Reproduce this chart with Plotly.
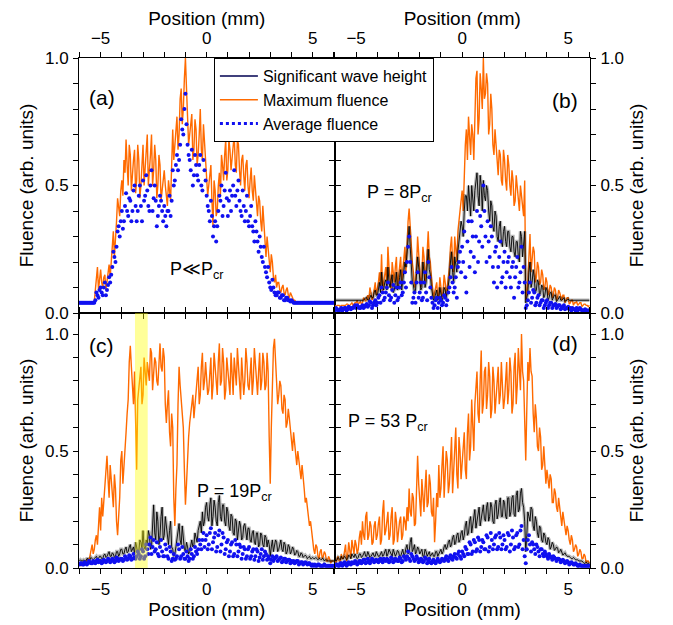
import plotly.graph_objects as go

# ---------------- data ----------------
# samples every 0.1 mm from -6.0 to 6.0 (121) and in-between samples
# at -5.95 ... 5.95 (120); both
POSITION_MAIN = [round(-6.0 + 0.1 * i, 1) for i in range(121)]
POSITION_MID = [round(-5.95 + 0.1 * i, 2) for i in range(120)]

# Panel (a)  P << Pcr
a_max = [0.04,0.04,0.04,0.04,0.04,0.04,0.04,0.045,0.14,0.09,
         0.17,0.10,0.15,0.12,0.19,0.20,0.32,0.28,0.45,0.38,
         0.52,0.60,0.68,0.50,0.62,0.55,0.64,0.52,0.60,0.50,
         0.66,0.58,0.70,0.55,0.70,0.56,0.60,0.50,0.58,0.48,
         0.56,0.46,0.52,0.44,0.72,0.66,0.77,0.70,0.88,0.80,
         1.00,0.78,0.70,0.78,0.64,0.72,0.62,0.80,0.60,0.68,
         0.55,0.50,0.58,0.34,0.48,0.40,0.55,0.62,0.52,0.68,
         0.56,0.64,0.60,0.70,0.55,0.66,0.50,0.62,0.48,0.60,
         0.45,0.57,0.44,0.48,0.38,0.44,0.32,0.36,0.22,0.26,
         0.16,0.20,0.12,0.10,0.12,0.08,0.11,0.07,0.10,0.06,
         0.07,0.05,0.045,0.04,0.04,0.04,0.04,0.04,0.04,0.04,
         0.04,0.04,0.04,0.04,0.04,0.04,0.04,0.04,0.04,0.04,
         0.04]
a_max_mid = [0.04,0.04,0.04,0.04,0.04,0.04,0.042,0.09,0.18,0.12,
             0.12,0.14,0.09,0.16,0.14,0.26,0.22,0.36,0.42,0.48,
             0.46,0.55,0.58,0.66,0.48,0.60,0.47,0.66,0.45,0.58,
             0.50,0.64,0.50,0.62,0.50,0.66,0.45,0.62,0.44,0.52,
             0.50,0.42,0.48,0.58,0.60,0.72,0.64,0.84,0.74,0.92,
             0.88,0.66,0.74,0.60,0.76,0.58,0.70,0.64,0.74,0.60,
             0.46,0.56,0.44,0.52,0.38,0.50,0.46,0.58,0.62,0.52,
             0.68,0.56,0.66,0.58,0.68,0.56,0.60,0.54,0.58,0.50,
             0.52,0.48,0.54,0.40,0.46,0.36,0.42,0.28,0.30,0.20,
             0.23,0.14,0.15,0.12,0.09,0.10,0.08,0.09,0.07,0.08,
             0.06,0.05,0.04,0.04,0.04,0.04,0.04,0.04,0.04,0.04,
             0.04,0.04,0.04,0.04,0.04,0.04,0.04,0.04,0.04,0.04]
a_avg = [0.04,0.04,0.04,0.04,0.04,0.04,0.04,0.04,0.08,0.06,
         0.10,0.07,0.12,0.09,0.14,0.15,0.24,0.20,0.32,0.30,
         0.40,0.36,0.47,0.38,0.44,0.40,0.50,0.36,0.46,0.42,
         0.52,0.46,0.48,0.40,0.56,0.45,0.44,0.38,0.46,0.40,
         0.42,0.34,0.40,0.38,0.56,0.52,0.62,0.60,0.76,0.70,
         0.86,0.66,0.60,0.64,0.54,0.58,0.52,0.62,0.48,0.56,
         0.46,0.40,0.44,0.30,0.36,0.34,0.46,0.50,0.42,0.55,
         0.38,0.48,0.46,0.56,0.42,0.52,0.40,0.48,0.36,0.46,
         0.34,0.42,0.32,0.36,0.28,0.30,0.22,0.26,0.16,0.18,
         0.10,0.13,0.08,0.07,0.08,0.06,0.07,0.05,0.06,0.05,
         0.05,0.04,0.04,0.04,0.04,0.04,0.04,0.04,0.04,0.04,
         0.04,0.04,0.04,0.04,0.04,0.04,0.04,0.04,0.04,0.04,
         0.04]
a_avg_mid = [0.04,0.04,0.04,0.04,0.04,0.04,0.04,0.05,0.07,0.09,
             0.08,0.10,0.07,0.11,0.12,0.18,0.22,0.26,0.34,0.36,
             0.33,0.42,0.40,0.45,0.36,0.48,0.42,0.40,0.50,0.36,
             0.44,0.54,0.42,0.50,0.40,0.50,0.34,0.42,0.44,0.36,
             0.38,0.40,0.46,0.44,0.50,0.58,0.56,0.66,0.72,0.80,
             0.74,0.62,0.56,0.50,0.62,0.54,0.58,0.50,0.60,0.52,
             0.42,0.36,0.38,0.34,0.28,0.40,0.44,0.38,0.48,0.45,
             0.44,0.40,0.50,0.46,0.48,0.44,0.38,0.42,0.40,0.36,
             0.38,0.34,0.28,0.32,0.24,0.26,0.20,0.18,0.14,0.12,
             0.09,0.10,0.07,0.08,0.06,0.07,0.05,0.06,0.05,0.045,
             0.045,0.04,0.04,0.04,0.04,0.04,0.04,0.04,0.04,0.04,
             0.04,0.04,0.04,0.04,0.04,0.04,0.04,0.04,0.04,0.04]

# Panel (b)  P = 8 Pcr
b_max = [0.03,0.03,0.03,0.03,0.03,0.03,0.035,0.03,0.04,0.035,
         0.04,0.035,0.045,0.04,0.05,0.06,0.05,0.08,0.06,0.12,
         0.09,0.16,0.23,0.12,0.18,0.26,0.14,0.20,0.12,0.22,
         0.14,0.22,0.18,0.26,0.30,0.41,0.24,0.16,0.12,0.30,
         0.18,0.14,0.22,0.16,0.32,0.20,0.10,0.08,0.12,0.07,
         0.10,0.08,0.12,0.10,0.18,0.30,0.16,0.24,0.32,0.40,
         0.48,0.58,0.72,0.77,0.62,0.70,0.80,0.95,0.76,0.88,
         1.00,0.86,0.90,0.74,0.80,0.62,0.66,0.54,0.62,0.50,
         0.60,0.48,0.58,0.46,0.52,0.44,0.48,0.40,0.46,0.38,
         0.05,0.12,0.31,0.20,0.24,0.14,0.18,0.12,0.15,0.10,
         0.12,0.08,0.10,0.07,0.09,0.06,0.08,0.05,0.07,0.05,
         0.06,0.04,0.05,0.04,0.045,0.035,0.04,0.03,0.035,0.03,
         0.03]
b_max_mid = [0.025,0.03,0.025,0.03,0.03,0.035,0.03,0.035,0.03,0.04,
             0.05,0.04,0.035,0.06,0.045,0.07,0.10,0.05,0.09,0.07,
             0.12,0.10,0.08,0.16,0.10,0.18,0.09,0.15,0.18,0.10,
             0.20,0.12,0.22,0.16,0.36,0.32,0.20,0.10,0.18,0.24,
             0.10,0.26,0.12,0.24,0.22,0.14,0.06,0.10,0.06,0.14,
             0.06,0.15,0.07,0.14,0.26,0.20,0.30,0.20,0.36,0.46,
             0.40,0.66,0.60,0.68,0.74,0.60,0.92,0.70,0.94,0.80,
             0.84,0.94,0.70,0.86,0.66,0.72,0.58,0.64,0.52,0.64,
             0.52,0.62,0.50,0.56,0.42,0.54,0.42,0.50,0.42,0.52,
             0.08,0.22,0.16,0.26,0.12,0.20,0.11,0.17,0.09,0.14,
             0.07,0.11,0.06,0.10,0.05,0.09,0.06,0.07,0.04,0.06,
             0.035,0.05,0.03,0.04,0.03,0.04,0.025,0.035,0.03,0.025]
b_swh = [0.05,0.05,0.05,0.05,0.05,0.05,0.05,0.05,0.05,0.05,
         0.05,0.05,0.05,0.05,0.055,0.06,0.05,0.07,0.06,0.09,
         0.07,0.12,0.16,0.09,0.13,0.18,0.10,0.15,0.09,0.16,
         0.10,0.17,0.13,0.20,0.24,0.34,0.18,0.11,0.09,0.22,
         0.13,0.10,0.16,0.12,0.25,0.15,0.08,0.06,0.09,0.06,
         0.08,0.06,0.09,0.08,0.14,0.24,0.12,0.18,0.24,0.30,
         0.34,0.40,0.46,0.50,0.38,0.44,0.48,0.55,0.42,0.50,
         0.52,0.44,0.48,0.36,0.42,0.32,0.38,0.28,0.36,0.26,
         0.34,0.26,0.32,0.24,0.30,0.22,0.28,0.20,0.30,0.26,
         0.04,0.08,0.20,0.12,0.14,0.09,0.12,0.08,0.10,0.07,
         0.09,0.06,0.08,0.06,0.07,0.05,0.065,0.05,0.06,0.05,
         0.055,0.05,0.05,0.05,0.05,0.05,0.05,0.05,0.05,0.05,
         0.05]
b_swh_mid = [0.05,0.05,0.05,0.05,0.05,0.05,0.05,0.05,0.05,0.05,
             0.05,0.05,0.05,0.05,0.06,0.05,0.065,0.06,0.08,0.07,
             0.09,0.08,0.10,0.12,0.09,0.12,0.13,0.08,0.12,0.09,
             0.14,0.09,0.16,0.18,0.30,0.26,0.12,0.08,0.16,0.18,
             0.09,0.20,0.10,0.18,0.17,0.10,0.05,0.08,0.05,0.10,
             0.05,0.10,0.06,0.11,0.20,0.16,0.22,0.16,0.28,0.36,
             0.30,0.46,0.40,0.44,0.50,0.40,0.52,0.46,0.54,0.40,
             0.46,0.50,0.40,0.44,0.34,0.40,0.30,0.34,0.28,0.32,
             0.28,0.32,0.26,0.30,0.24,0.28,0.22,0.32,0.22,0.32,
             0.06,0.16,0.10,0.17,0.08,0.13,0.07,0.11,0.06,0.10,
             0.05,0.08,0.05,0.07,0.045,0.06,0.05,0.055,0.045,0.05,
             0.05,0.05,0.05,0.05,0.05,0.05,0.05,0.05,0.05,0.05]
b_avg = [0.01,0.015,0.01,0.02,0.015,0.02,0.015,0.02,0.02,0.025,
         0.02,0.025,0.02,0.03,0.025,0.035,0.03,0.04,0.03,0.05,
         0.04,0.07,0.10,0.05,0.08,0.12,0.05,0.09,0.04,0.10,
         0.06,0.12,0.08,0.16,0.20,0.30,0.12,0.06,0.04,0.16,
         0.08,0.05,0.12,0.08,0.20,0.10,0.04,0.03,0.06,0.04,
         0.05,0.04,0.06,0.05,0.10,0.18,0.08,0.14,0.18,0.24,
         0.26,0.32,0.08,0.36,0.24,0.30,0.16,0.40,0.28,0.34,
         0.50,0.30,0.36,0.22,0.30,0.12,0.26,0.18,0.28,0.14,
         0.24,0.16,0.22,0.10,0.20,0.14,0.22,0.12,0.26,0.18,
         0.02,0.05,0.12,0.06,0.08,0.04,0.07,0.04,0.05,0.03,
         0.05,0.03,0.04,0.03,0.035,0.025,0.03,0.02,0.03,0.02,
         0.025,0.02,0.02,0.015,0.02,0.015,0.015,0.01,0.015,0.01,
         0.01]
b_avg_mid = [0.02,0.01,0.015,0.01,0.02,0.01,0.025,0.015,0.02,0.03,
             0.03,0.02,0.025,0.02,0.03,0.025,0.045,0.02,0.04,0.03,
             0.06,0.04,0.08,0.06,0.10,0.07,0.06,0.11,0.07,0.05,
             0.10,0.07,0.12,0.10,0.26,0.20,0.04,0.08,0.12,0.06,
             0.12,0.06,0.16,0.05,0.14,0.06,0.02,0.05,0.02,0.06,
             0.03,0.07,0.03,0.08,0.14,0.12,0.10,0.06,0.20,0.16,
             0.20,0.14,0.28,0.18,0.36,0.22,0.30,0.20,0.38,0.26,
             0.40,0.20,0.28,0.34,0.18,0.24,0.10,0.22,0.12,0.20,
             0.10,0.20,0.14,0.18,0.06,0.18,0.10,0.16,0.08,0.12,
             0.03,0.08,0.04,0.09,0.03,0.06,0.03,0.05,0.02,0.04,
             0.02,0.04,0.02,0.03,0.02,0.03,0.015,0.025,0.015,0.02,
             0.015,0.01,0.015,0.01,0.01,0.02,0.01,0.01,0.01,0.01]

# Panel (c)  P = 19 Pcr
c_max = [0.02,0.01,0.03,0.02,0.04,0.05,0.10,0.08,0.14,0.20,
         0.16,0.22,0.36,0.48,0.30,0.38,0.26,0.34,0.14,0.30,
         0.50,0.42,0.58,0.72,0.95,0.80,0.84,0.42,0.78,0.86,
         0.74,0.84,0.88,0.80,0.92,0.82,0.88,0.78,0.96,0.84,
         0.90,0.62,0.76,0.52,0.60,0.18,0.44,0.86,0.72,0.60,
         0.27,0.50,0.62,0.70,0.64,0.78,0.86,0.74,0.92,0.80,
         0.82,0.76,0.90,0.78,0.86,0.74,0.96,0.80,0.88,0.76,
         0.84,0.74,0.82,0.90,0.78,0.86,0.72,0.84,0.80,0.88,
         0.76,0.90,0.80,0.86,0.74,0.92,0.80,0.88,0.78,0.84,
         0.36,0.86,0.98,0.80,0.74,0.78,0.66,0.72,0.62,0.64,
         0.55,0.58,0.48,0.50,0.42,0.44,0.34,0.30,0.22,0.20,
         0.12,0.06,0.09,0.04,0.08,0.05,0.06,0.03,0.04,0.03,
         0.03]
c_max_mid = [0.01,0.02,0.02,0.03,0.03,0.07,0.06,0.12,0.10,0.26,
             0.30,0.28,0.42,0.38,0.44,0.30,0.40,0.20,0.22,0.46,
             0.36,0.52,0.66,0.88,0.86,0.70,0.62,0.72,0.80,0.70,
             0.90,0.78,0.84,0.94,0.76,0.90,0.80,0.88,0.86,0.94,
             0.70,0.70,0.58,0.66,0.30,0.34,0.70,0.78,0.64,0.42,
             0.36,0.56,0.66,0.74,0.70,0.82,0.70,0.86,0.76,0.88,
             0.74,0.86,0.72,0.92,0.76,0.88,0.78,0.94,0.72,0.90,
             0.78,0.92,0.74,0.82,0.94,0.76,0.90,0.74,0.94,0.78,
             0.84,0.74,0.94,0.78,0.84,0.76,0.92,0.76,0.92,0.56,
             0.60,0.94,0.86,0.70,0.80,0.68,0.74,0.60,0.68,0.58,
             0.50,0.54,0.44,0.46,0.38,0.40,0.28,0.26,0.18,0.14,
             0.08,0.10,0.05,0.07,0.04,0.07,0.03,0.05,0.02,0.03]
c_swh = [0.03,0.03,0.035,0.03,0.04,0.035,0.04,0.04,0.05,0.04,
         0.05,0.04,0.06,0.05,0.07,0.05,0.06,0.05,0.07,0.06,
         0.08,0.06,0.09,0.07,0.10,0.08,0.06,0.09,0.07,0.11,
         0.16,0.08,0.10,0.14,0.09,0.27,0.12,0.20,0.14,0.26,
         0.14,0.18,0.10,0.20,0.08,0.06,0.12,0.19,0.10,0.14,
         0.07,0.09,0.07,0.12,0.10,0.13,0.16,0.20,0.24,0.20,
         0.28,0.20,0.30,0.22,0.26,0.18,0.31,0.20,0.27,0.18,
         0.24,0.16,0.22,0.14,0.20,0.15,0.18,0.13,0.19,0.12,
         0.17,0.11,0.16,0.10,0.15,0.10,0.14,0.09,0.13,0.12,
         0.05,0.12,0.09,0.11,0.08,0.12,0.07,0.10,0.07,0.09,
         0.07,0.08,0.06,0.07,0.05,0.06,0.05,0.05,0.045,0.04,
         0.045,0.04,0.04,0.04,0.035,0.04,0.035,0.03,0.03,0.03,
         0.03]
c_swh_mid = [0.035,0.03,0.03,0.04,0.03,0.045,0.035,0.045,0.04,0.05,
             0.04,0.055,0.045,0.06,0.05,0.065,0.045,0.07,0.05,0.08,
             0.06,0.08,0.065,0.09,0.07,0.09,0.11,0.06,0.12,0.08,
             0.09,0.12,0.16,0.08,0.20,0.15,0.24,0.10,0.22,0.12,
             0.22,0.12,0.16,0.09,0.05,0.09,0.15,0.12,0.18,0.08,
             0.11,0.06,0.10,0.09,0.15,0.11,0.19,0.15,0.18,0.26,
             0.22,0.27,0.18,0.29,0.20,0.28,0.22,0.27,0.20,0.26,
             0.18,0.23,0.15,0.21,0.12,0.20,0.12,0.18,0.14,0.17,
             0.12,0.15,0.11,0.15,0.09,0.15,0.10,0.14,0.09,0.10,
             0.09,0.07,0.12,0.07,0.11,0.08,0.11,0.06,0.10,0.06,
             0.09,0.055,0.075,0.05,0.065,0.045,0.055,0.04,0.05,0.04,
             0.04,0.045,0.035,0.04,0.04,0.03,0.035,0.03,0.03,0.03]
c_avg = [0.015,0.02,0.015,0.02,0.02,0.025,0.02,0.025,0.03,0.025,
         0.03,0.025,0.03,0.03,0.035,0.03,0.035,0.03,0.04,0.035,
         0.04,0.035,0.045,0.04,0.05,0.04,0.045,0.05,0.06,0.05,
         0.07,0.05,0.08,0.10,0.06,0.12,0.08,0.06,0.09,0.07,
         0.05,0.08,0.04,0.07,0.04,0.035,0.05,0.08,0.05,0.06,
         0.04,0.05,0.04,0.06,0.05,0.07,0.08,0.10,0.12,0.09,
         0.14,0.10,0.17,0.11,0.15,0.09,0.16,0.10,0.13,0.08,
         0.12,0.07,0.11,0.06,0.10,0.07,0.09,0.06,0.08,0.05,
         0.09,0.05,0.08,0.05,0.07,0.045,0.08,0.05,0.06,0.05,
         0.02,0.05,0.04,0.05,0.035,0.045,0.03,0.04,0.03,0.035,
         0.03,0.03,0.025,0.03,0.02,0.025,0.02,0.02,0.02,0.015,
         0.015,0.015,0.01,0.015,0.01,0.01,0.01,0.01,0.01,0.01,
         0.01]
c_avg_mid = [0.02,0.015,0.025,0.015,0.03,0.02,0.03,0.02,0.035,0.03,
             0.02,0.035,0.025,0.04,0.025,0.04,0.025,0.045,0.03,0.04,
             0.03,0.05,0.035,0.055,0.035,0.06,0.04,0.07,0.04,0.08,
             0.04,0.10,0.06,0.13,0.09,0.07,0.11,0.05,0.12,0.05,
             0.10,0.05,0.09,0.03,0.06,0.04,0.10,0.04,0.09,0.04,
             0.07,0.03,0.08,0.04,0.09,0.06,0.12,0.08,0.15,0.12,
             0.08,0.15,0.08,0.13,0.07,0.14,0.07,0.15,0.06,0.11,
             0.05,0.10,0.05,0.12,0.05,0.10,0.04,0.09,0.04,0.08,
             0.04,0.07,0.035,0.08,0.03,0.06,0.035,0.07,0.035,0.04,
             0.035,0.03,0.045,0.03,0.04,0.025,0.04,0.025,0.035,0.02,
             0.025,0.02,0.03,0.015,0.025,0.015,0.025,0.015,0.02,0.01,
             0.01,0.01,0.015,0.01,0.01,0.015,0.01,0.01,0.01,0.01]

# Panel (d)  P = 53 Pcr
d_max = [0.03,0.04,0.03,0.06,0.04,0.10,0.05,0.08,0.12,0.06,
         0.10,0.08,0.16,0.20,0.12,0.24,0.14,0.18,0.11,0.20,
         0.14,0.22,0.12,0.29,0.16,0.24,0.14,0.26,0.12,0.20,
         0.16,0.22,0.14,0.20,0.26,0.34,0.22,0.30,0.19,0.48,
         0.30,0.38,0.24,0.42,0.28,0.36,0.22,0.11,0.32,0.44,
         0.34,0.52,0.40,0.46,0.36,0.56,0.42,0.60,0.34,0.50,
         0.44,0.58,0.38,0.66,0.52,0.62,0.70,0.84,0.62,0.93,
         0.70,0.86,0.74,0.82,0.68,0.80,0.72,0.86,0.74,0.80,
         0.72,0.88,0.76,0.84,0.70,0.92,0.78,0.86,1.00,0.80,
         0.46,0.88,0.94,0.82,0.58,0.64,0.50,0.56,0.44,0.40,
         0.42,0.34,0.38,0.28,0.32,0.24,0.26,0.18,0.20,0.14,
         0.16,0.10,0.12,0.08,0.09,0.06,0.07,0.04,0.05,0.03,
         0.02]
d_max_mid = [0.02,0.05,0.02,0.04,0.07,0.03,0.11,0.04,0.08,0.12,
             0.06,0.13,0.10,0.14,0.22,0.12,0.20,0.10,0.18,0.12,
             0.19,0.10,0.24,0.14,0.20,0.12,0.22,0.10,0.24,0.11,
             0.20,0.12,0.22,0.16,0.20,0.24,0.32,0.18,0.30,0.36,
             0.22,0.30,0.34,0.26,0.40,0.24,0.30,0.20,0.26,0.30,
             0.44,0.30,0.50,0.32,0.46,0.32,0.52,0.40,0.56,0.38,
             0.50,0.42,0.58,0.46,0.72,0.50,0.78,0.66,0.80,0.66,
             0.84,0.68,0.88,0.64,0.86,0.66,0.82,0.70,0.88,0.68,
             0.82,0.70,0.90,0.66,0.86,0.70,0.94,0.76,0.84,0.62,
             0.68,0.80,0.84,0.66,0.70,0.52,0.60,0.42,0.52,0.36,
             0.36,0.40,0.28,0.34,0.26,0.30,0.20,0.24,0.16,0.18,
             0.12,0.14,0.07,0.10,0.05,0.08,0.04,0.06,0.02,0.03]
d_swh = [0.04,0.035,0.04,0.05,0.04,0.045,0.04,0.05,0.06,0.045,
         0.05,0.045,0.06,0.05,0.07,0.05,0.06,0.05,0.065,0.05,
         0.06,0.05,0.07,0.055,0.08,0.06,0.07,0.05,0.065,0.06,
         0.07,0.05,0.08,0.06,0.10,0.07,0.13,0.08,0.06,0.09,
         0.06,0.08,0.05,0.07,0.06,0.05,0.065,0.05,0.07,0.06,
         0.08,0.07,0.10,0.09,0.12,0.10,0.14,0.11,0.15,0.12,
         0.16,0.14,0.20,0.15,0.22,0.18,0.25,0.20,0.26,0.21,
         0.27,0.20,0.28,0.22,0.26,0.19,0.29,0.23,0.30,0.22,
         0.28,0.21,0.30,0.24,0.31,0.22,0.33,0.25,0.34,0.26,
         0.07,0.24,0.20,0.25,0.16,0.20,0.13,0.17,0.11,0.14,
         0.10,0.12,0.09,0.10,0.08,0.085,0.07,0.07,0.06,0.055,
         0.05,0.045,0.04,0.04,0.035,0.03,0.03,0.025,0.02,0.02,
         0.02]
d_swh_mid = [0.03,0.045,0.035,0.04,0.05,0.035,0.055,0.04,0.05,0.06,
             0.04,0.06,0.045,0.065,0.05,0.07,0.045,0.06,0.05,0.07,
             0.05,0.065,0.05,0.07,0.05,0.08,0.055,0.08,0.05,0.075,
             0.05,0.07,0.055,0.085,0.06,0.11,0.07,0.10,0.07,0.08,
             0.07,0.05,0.08,0.05,0.07,0.06,0.05,0.07,0.05,0.07,
             0.06,0.09,0.08,0.11,0.09,0.13,0.10,0.14,0.11,0.15,
             0.12,0.18,0.14,0.20,0.15,0.23,0.17,0.24,0.18,0.26,
             0.21,0.26,0.20,0.28,0.20,0.27,0.21,0.28,0.22,0.29,
             0.22,0.30,0.22,0.30,0.23,0.31,0.24,0.32,0.28,0.20,
             0.14,0.22,0.26,0.18,0.22,0.15,0.18,0.12,0.15,0.11,
             0.13,0.08,0.11,0.075,0.09,0.065,0.08,0.055,0.065,0.05,
             0.05,0.04,0.045,0.035,0.035,0.03,0.03,0.02,0.025,0.02]
d_avg = [0.01,0.015,0.01,0.02,0.015,0.02,0.015,0.02,0.025,0.02,
         0.025,0.02,0.03,0.025,0.035,0.025,0.03,0.03,0.035,0.03,
         0.03,0.035,0.03,0.04,0.03,0.035,0.03,0.04,0.03,0.035,
         0.03,0.04,0.03,0.045,0.05,0.04,0.06,0.04,0.035,0.04,
         0.03,0.035,0.03,0.04,0.03,0.025,0.03,0.025,0.03,0.03,
         0.03,0.035,0.04,0.035,0.045,0.04,0.05,0.045,0.06,0.05,
         0.07,0.05,0.08,0.06,0.10,0.07,0.11,0.08,0.12,0.09,
         0.11,0.08,0.13,0.09,0.12,0.10,0.14,0.09,0.13,0.10,
         0.12,0.09,0.14,0.10,0.13,0.09,0.15,0.10,0.18,0.12,
         0.02,0.12,0.10,0.11,0.08,0.10,0.07,0.08,0.06,0.07,
         0.05,0.06,0.045,0.05,0.04,0.04,0.035,0.03,0.03,0.025,
         0.025,0.02,0.02,0.015,0.015,0.01,0.01,0.01,0.01,0.01,
         0.01]
d_avg_mid = [0.015,0.01,0.02,0.01,0.025,0.01,0.025,0.015,0.02,0.03,
             0.015,0.03,0.02,0.035,0.02,0.04,0.02,0.04,0.025,0.035,
             0.025,0.04,0.025,0.035,0.04,0.025,0.045,0.025,0.04,0.03,
             0.045,0.025,0.05,0.035,0.07,0.03,0.05,0.03,0.05,0.025,
             0.04,0.025,0.045,0.02,0.04,0.02,0.035,0.02,0.04,0.025,
             0.04,0.03,0.05,0.03,0.055,0.035,0.06,0.04,0.07,0.04,
             0.06,0.09,0.06,0.11,0.06,0.12,0.07,0.13,0.07,0.12,
             0.08,0.14,0.07,0.15,0.08,0.13,0.08,0.15,0.08,0.14,
             0.08,0.15,0.07,0.16,0.08,0.14,0.09,0.16,0.08,0.05,
             0.08,0.14,0.07,0.10,0.06,0.09,0.05,0.08,0.05,0.06,
             0.04,0.05,0.035,0.045,0.03,0.04,0.025,0.035,0.02,0.03,
             0.015,0.025,0.015,0.02,0.01,0.015,0.01,0.01,0.01,0.01]

PANEL_LABELS = ["(a)", "(b)", "(c)", "(d)"]
POWER_LABELS = ["P≪P<sub>cr</sub>", "P = 8P<sub>cr</sub>",
                "P = 19P<sub>cr</sub>", "P = 53 P<sub>cr</sub>"]
LEGEND_NAMES = ["Significant wave height", "Maximum fluence", "Average fluence"]
HIGHLIGHT_MM = [-3.38, -2.78]

# ---------------- styles ----------------
ORANGE = "#FF6A00"
BLUE = "#1010F0"
NAVY = "#000050"
FONT = "Liberation Sans, Arial, sans-serif"


def merge(main, mid):
    xs, ys = [], []
    for i in range(len(mid)):
        xs += [POSITION_MAIN[i], POSITION_MID[i]]
        ys += [main[i], mid[i]]
    xs.append(POSITION_MAIN[len(mid)])
    ys.append(main[len(mid)])
    return xs, ys


fig = go.Figure()

panels = [
    ("x", "y", (a_max, a_max_mid), None, (a_avg, a_avg_mid)),
    ("x2", "y2", (b_max, b_max_mid), (b_swh, b_swh_mid), (b_avg, b_avg_mid)),
    ("x3", "y3", (c_max, c_max_mid), (c_swh, c_swh_mid), (c_avg, c_avg_mid)),
    ("x4", "y4", (d_max, d_max_mid), (d_swh, d_swh_mid), (d_avg, d_avg_mid)),
]
for xa, ya, mx, swh, avg in panels:
    px, py = merge(*mx)
    fig.add_trace(go.Scatter(x=px, y=py, mode="lines", xaxis=xa, yaxis=ya,
                             line=dict(color=ORANGE, width=1.4), showlegend=False))
    if swh is not None:
        sx, sy = merge(*swh)
        fig.add_trace(go.Scatter(x=sx, y=sy, mode="lines", xaxis=xa, yaxis=ya,
                                 line=dict(color="rgba(0,0,0,0.28)", width=3.5), showlegend=False))
        fig.add_trace(go.Scatter(x=sx, y=sy, mode="lines", xaxis=xa, yaxis=ya,
                                 line=dict(color="black", width=0.9), showlegend=False))
    ax_, ay_ = merge(*avg)
    fig.add_trace(go.Scatter(x=ax_, y=ay_, mode="markers", xaxis=xa, yaxis=ya,
                             marker=dict(color=BLUE, size=4), showlegend=False))

# legend-only entries
fig.add_trace(go.Scatter(x=[None], y=[None], mode="lines", name=LEGEND_NAMES[0],
                         line=dict(color=NAVY, width=1.5)))
fig.add_trace(go.Scatter(x=[None], y=[None], mode="lines", name=LEGEND_NAMES[1],
                         line=dict(color=ORANGE, width=1.5)))
fig.add_trace(go.Scatter(x=[None], y=[None], mode="lines", name=LEGEND_NAMES[2],
                         line=dict(color=BLUE, width=3, dash="dot")))


def xaxis(domain, side, anchor, title):
    return dict(domain=domain, side=side, anchor=anchor, range=[-6.02, 6.03],
                automargin=False,
                showline=True, linecolor="black", linewidth=1, mirror="ticks",
                ticks="outside", ticklen=5, tickwidth=1, tickcolor="black",
                tick0=0, dtick=5, ticklabelstandoff=1,
                minor=dict(ticks="outside", dtick=1, ticklen=5, tickcolor="black", tickwidth=1),
                showgrid=False, zeroline=False,
                tickfont=dict(size=17, color="black"),
                title=dict(text=title, font=dict(size=19, color="black"), standoff=1))


def yaxis(domain, side, anchor, rng):
    return dict(domain=domain, side=side, anchor=anchor, range=rng,
                automargin=False,
                showline=True, linecolor="black", linewidth=1, mirror="ticks",
                ticks="outside", ticklen=5, tickwidth=1, tickcolor="black",
                tick0=0, dtick=0.5, tickformat=".1f", ticklabelstandoff=1,
                minor=dict(ticks="outside", dtick=0.1, ticklen=5, tickcolor="black", tickwidth=1),
                showgrid=False, zeroline=False,
                tickfont=dict(size=17, color="black"),
                title=dict(text="Fluence (arb. units)", font=dict(size=19, color="black"), standoff=6))


# the page body adds an 8 px offset, so the figure is drawn 8 px smaller
fig.update_layout(
    width=665, height=617,
    margin=dict(l=71, r=83, t=50, b=57, autoexpand=False),
    paper_bgcolor="white", plot_bgcolor="white",
    font=dict(family=FONT, color="black"),
    xaxis=xaxis([0, 0.5], "top", "y", "Position (mm)"),
    xaxis2=xaxis([0.5, 1], "top", "y2", "Position (mm)"),
    xaxis3=xaxis([0, 0.5], "bottom", "y3", "Position (mm)"),
    xaxis4=xaxis([0.5, 1], "bottom", "y4", "Position (mm)"),
    yaxis=yaxis([0.5, 1], "left", "x", [0, 1.0]),
    yaxis2=yaxis([0.5, 1], "right", "x2", [0, 1.0]),
    yaxis3=yaxis([0, 0.5], "left", "x3", [0, 1.09]),
    yaxis4=yaxis([0, 0.5], "right", "x4", [0, 1.09]),
    legend=dict(x=0.264, y=1.0, xanchor="left", yanchor="top",
                bgcolor="white", bordercolor="black", borderwidth=1,
                font=dict(size=16, color="black"), itemwidth=38, tracegroupgap=0),
    showlegend=True,
)

fig.add_shape(type="rect", xref="x3", yref="y3 domain",
              x0=HIGHLIGHT_MM[0], x1=HIGHLIGHT_MM[1], y0=0, y1=1,
              fillcolor="rgba(255,255,0,0.4)", line=dict(width=0), layer="above")

# panel letters
letter_pos = [("x domain", "y domain", 0.09, 0.847), ("x2 domain", "y2 domain", 0.902, 0.835),
              ("x3 domain", "y3 domain", 0.09, 0.874), ("x4 domain", "y4 domain", 0.902, 0.882)]
for (xr, yr, xx, yy), lab in zip(letter_pos, PANEL_LABELS):
    fig.add_annotation(xref=xr, yref=yr, x=xx, y=yy, text=lab, showarrow=False,
                       xanchor="center", yanchor="middle",
                       font=dict(size=21, color="black"))

power_pos = [("x domain", "y domain", 0.462, 0.167), ("x2 domain", "y2 domain", 0.256, 0.47),
             ("x3 domain", "y3 domain", 0.607, 0.295), ("x4 domain", "y4 domain", 0.21, 0.571)]
for (xr, yr, xx, yy), lab in zip(power_pos, POWER_LABELS):
    fig.add_annotation(xref=xr, yref=yr, x=xx, y=yy, text=lab, showarrow=False,
                       xanchor="center", yanchor="middle",
                       font=dict(size=18, color="black"))

fig.write_html("out.html")
